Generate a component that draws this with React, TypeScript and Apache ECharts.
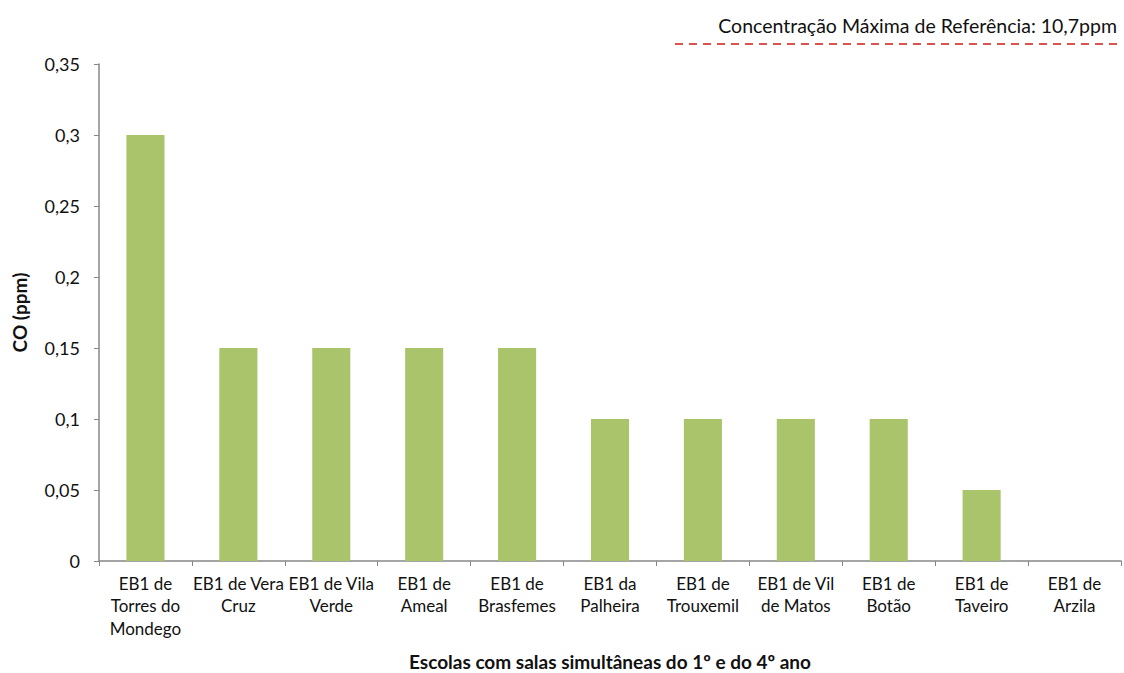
import React, { useEffect, useRef } from "react";
import * as echarts from "echarts";

const categories = [
  "EB1 de\nTorres do\nMondego",
  "EB1 de Vera\nCruz",
  "EB1 de Vila\nVerde",
  "EB1 de\nAmeal",
  "EB1 de\nBrasfemes",
  "EB1 da\nPalheira",
  "EB1 de\nTrouxemil",
  "EB1 de Vil\nde Matos",
  "EB1 de\nBotão",
  "EB1 de\nTaveiro",
  "EB1 de\nArzila",
];
const coValues = [0.3, 0.15, 0.15, 0.15, 0.15, 0.1, 0.1, 0.1, 0.1, 0.05, 0];
const yTicks = { min: 0, max: 0.35, interval: 0.05 };
const referenceLabel = "Concentração Máxima de Referência: 10,7ppm";
const xTitle = "Escolas com salas simultâneas do 1º e do 4º ano";
const yTitle = "CO (ppm)";

const FONT = "Lato, 'Open Sans', sans-serif";

export default function App() {
  const ref = useRef<HTMLDivElement>(null);
  useEffect(() => {
    document.body.style.margin = "0";
    if (!ref.current) return;
    const chart = echarts.init(ref.current, null, { renderer: "svg" });
    chart.setOption({
      animation: false,
      textStyle: { fontFamily: FONT },
      grid: { left: 99, right: 3, top: 64, bottom: 112, outerBoundsMode: "none", containLabel: false },
      xAxis: {
        type: "category",
        data: categories,
        axisLine: { lineStyle: { color: "#878787", width: 1.5 } },
        axisTick: { show: true, length: 5, lineStyle: { color: "#878787" } },
        axisLabel: {
          interval: 0,
          color: "#111",
          fontSize: 17,
          lineHeight: 22.5,
          margin: 11,
          fontFamily: FONT,
        },
        name: xTitle,
        nameLocation: "middle",
        nameGap: 91,
        nameTextStyle: { fontWeight: "bold", fontSize: 19, color: "#111", fontFamily: FONT },
      },
      yAxis: {
        type: "value",
        min: yTicks.min,
        max: yTicks.max,
        interval: yTicks.interval,
        splitLine: { show: false },
        axisLine: { show: true, lineStyle: { color: "#878787", width: 1.5 } },
        axisTick: { show: true, length: 5, lineStyle: { color: "#878787" } },
        axisLabel: {
          color: "#111",
          fontSize: 18,
          margin: 19,
          fontFamily: FONT,
          formatter: (v: number) => String(Math.round(v * 100) / 100).replace(".", ","),
        },
        name: yTitle,
        nameLocation: "middle",
        nameGap: 70,
        nameRotate: 90,
        nameTextStyle: { fontWeight: "bold", fontSize: 19, color: "#111", fontFamily: FONT },
      },
      series: [
        {
          type: "bar",
          data: coValues,
          barWidth: "41%",
          itemStyle: { color: "#aac46c" },
        },
      ],
      graphic: [
        {
          type: "text",
          right: 7,
          top: 15,
          style: { text: referenceLabel, fontSize: 19.5, fill: "#111", fontFamily: FONT },
        },
        {
          type: "line",
          shape: { x1: 675, y1: 44, x2: 1117, y2: 44 },
          style: { stroke: "#d9534f", lineWidth: 2, lineDash: [8, 6] },
        },
      ],
    });
    return () => chart.dispose();
  }, []);
  return <div ref={ref} style={{ width: 1124, height: 673 }} />;
}
